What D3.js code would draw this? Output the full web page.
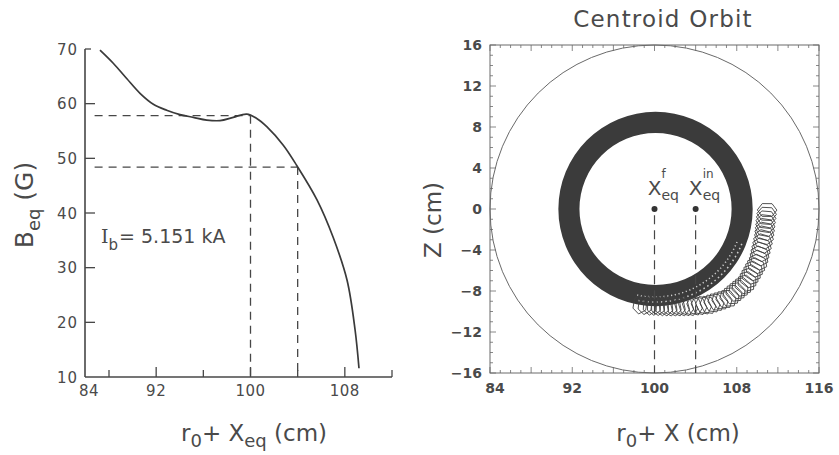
<!DOCTYPE html>
<html><head><meta charset="utf-8">
<script src="https://cdn.jsdelivr.net/npm/d3@7"></script>
<style>
body{margin:0;background:#fff}
text{font-family:"DejaVu Sans",sans-serif;fill:#4a4a4a}
</style>
</head><body>
<svg id="c" width="839" height="455"></svg>
<script>
// ---------- Left panel data ----------
const leftXTicks = [88, 92, 96, 100, 104, 108, 112];
const leftXMajor = [92, 100, 108];
const leftXLabels = [84, 92, 100, 108];
const leftYTicks = [10, 20, 30, 40, 50, 60, 70];
const bCurveX = [86.5, 88.36, 89.5, 90.63, 91.76, 92.89, 94.02, 95.15, 96.29, 97.41, 98.54, 99.68, 100.53, 101.38, 102.78, 103.92, 105.64, 107.0, 108.19, 108.87, 109.2];
const bCurveB = [69.8, 67.4, 64.6, 61.9, 59.9, 58.8, 58.0, 57.5, 57.0, 56.9, 57.5, 58.1, 57.3, 55.8, 52.4, 48.7, 42.4, 35.6, 27.7, 18.6, 11.6];
const guideX = [100, 104];
const guideB = [57.8, 48.4];
const guideStartX = 85.6;
const currentLabel = "= 5.151 kA";

// ---------- Right panel data ----------
const orbitXLabels = [84, 92, 100, 108, 116];
const orbitZLabels = [16, 12, 8, 4, 0, -4, -8, -12, -16];
const chamberCenter = [100, 0];
const chamberRadius = 16;
const ringCenter = [100.1, 0];
const ringRadii = [7.4, 9.45];
const speckleRadii = [8.55, 9.05];
const speckleAngles = [22, 102];
const tailX = [110.95,110.91,110.86,110.82,110.78,110.74,110.69,
  110.65,110.55,110.46,110.36,110.26,110.17,
  110.07,109.88,109.68,109.49,109.29,109.10,
  108.90,108.61,108.32,108.03,107.73,107.44,
  107.15,106.76,106.37,105.98,105.59,
  105.20,104.77,104.33,103.90,
  103.46,103.07,102.68,102.28,101.89,
  101.50,101.11,100.72,100.34,99.95,
  99.56,99.08,98.60];
const tailZ = [-0.10,-0.48,-0.85,-1.23,-1.61,-1.99,-2.36,
  -2.74,-3.15,-3.56,-3.97,-4.37,-4.78,
  -5.19,-5.53,-5.87,-6.22,-6.56,-6.90,
  -7.24,-7.49,-7.73,-7.98,-8.22,-8.47,
  -8.71,-8.84,-8.97,-9.09,-9.22,
  -9.35,-9.39,-9.43,-9.46,
  -9.50,-9.50,-9.50,-9.50,-9.50,
  -9.50,-9.48,-9.46,-9.44,-9.42,
  -9.40,-9.35,-9.30];
const eqX = [100, 104];
const eqSup = ["f", "in"];

const svg = d3.select("#c");
const ink = "#474747";

// ================= LEFT PANEL =================
const xL = d3.scaleLinear().domain([84, 88, 112]).range([85, 109, 392]);
const yL = d3.scaleLinear().domain([10, 70]).range([377, 49]);
const gL = svg.append("g");

gL.append("line").attr("x1", xL(84)).attr("x2", xL(84)).attr("y1", yL(70)).attr("y2", yL(10))
  .attr("stroke", ink).attr("stroke-width", 1.6);
gL.append("line").attr("x1", xL(84)).attr("x2", xL(112)).attr("y1", yL(10)).attr("y2", yL(10))
  .attr("stroke", ink).attr("stroke-width", 1.6);

gL.selectAll(".yt").data(leftYTicks.filter(d => d > 10)).join("line")
  .attr("x1", xL(84)).attr("x2", d => xL(84) + (d === 70 ? 6 : 10))
  .attr("y1", d => yL(d)).attr("y2", d => yL(d))
  .attr("stroke", ink).attr("stroke-width", 1.3);
gL.selectAll(".yl").data(leftYTicks).join("text")
  .attr("x", xL(84) - 7).attr("y", d => yL(d) + 5.5)
  .attr("text-anchor", "end").attr("font-size", 15).attr("letter-spacing", 1)
  .text(d => d);

gL.selectAll(".xt").data(leftXTicks).join("line")
  .attr("x1", d => xL(d)).attr("x2", d => xL(d))
  .attr("y1", yL(10)).attr("y2", d => yL(10) - (leftXMajor.includes(d) ? 10 : 7))
  .attr("stroke", ink).attr("stroke-width", 1.3);
gL.selectAll(".xl").data(leftXLabels).join("text")
  .attr("x", d => d === 84 ? xL(d) + 4 : xL(d)).attr("y", yL(10) + 19)
  .attr("text-anchor", "middle").attr("font-size", 15).attr("letter-spacing", 0.5)
  .text(d => d);

const dash = "8,6";
guideX.forEach((gx, i) => {
  gL.append("line").attr("x1", xL(guideStartX)).attr("x2", xL(gx))
    .attr("y1", yL(guideB[i])).attr("y2", yL(guideB[i]))
    .attr("stroke", ink).attr("stroke-width", 1.3).attr("stroke-dasharray", dash);
  gL.append("line").attr("x1", xL(gx)).attr("x2", xL(gx))
    .attr("y1", yL(guideB[i])).attr("y2", yL(10))
    .attr("stroke", ink).attr("stroke-width", 1.3).attr("stroke-dasharray", dash);
});

const curvePts = bCurveX.map((x, i) => [x, bCurveB[i]]);
gL.append("path").datum(curvePts)
  .attr("d", d3.line().x(d => xL(d[0])).y(d => yL(d[1])).curve(d3.curveCatmullRom.alpha(0.5)))
  .attr("fill", "none").attr("stroke", "#3a3a3a").attr("stroke-width", 1.7);

const ib = gL.append("text").attr("x", 101).attr("y", 243).attr("font-size", 19);
ib.append("tspan").attr("font-family", "DejaVu Serif").text("I");
ib.append("tspan").attr("font-size", 15).attr("dy", 7).text("b");
ib.append("tspan").attr("dy", -7).attr("dx", 1).text(currentLabel);

const ytL = gL.append("text").attr("transform", "translate(33,205) rotate(-90)")
  .attr("text-anchor", "middle").attr("font-size", 25);
ytL.append("tspan").text("B");
ytL.append("tspan").attr("font-size", 18).attr("dy", 7).text("eq");
ytL.append("tspan").attr("dy", -7).text(" (G)");

const xtL = gL.append("text").attr("x", 254).attr("y", 441)
  .attr("text-anchor", "middle").attr("font-size", 23);
xtL.append("tspan").text("r");
xtL.append("tspan").attr("font-size", 18).attr("dy", 6).text("0");
xtL.append("tspan").attr("dy", -6).text("+ X");
xtL.append("tspan").attr("font-size", 18).attr("dy", 6).text("eq");
xtL.append("tspan").attr("dy", -6).text(" (cm)");

// ================= RIGHT PANEL =================
const xR = d3.scaleLinear().domain([84, 116]).range([490, 819]);
const yR = d3.scaleLinear().domain([-16, 16]).range([373, 45]);
const gR = svg.append("g");
const fine = "#6a6a6a";

gR.append("rect").attr("x", xR(84)).attr("y", yR(16))
  .attr("width", xR(116) - xR(84)).attr("height", yR(-16) - yR(16))
  .attr("fill", "none").attr("stroke", fine).attr("stroke-width", 1);

const xMinor = d3.range(84, 117, 1);
const zMinor = d3.range(-16, 17, 1);
const tl = d => (d % 4 === 0 ? 6 : 3);
gR.selectAll(".tb").data(xMinor).join("line")
  .attr("x1", d => xR(d)).attr("x2", d => xR(d)).attr("y1", yR(-16)).attr("y2", d => yR(-16) - tl(d))
  .attr("stroke", fine).attr("stroke-width", 0.8);
gR.selectAll(".tt").data(xMinor).join("line")
  .attr("x1", d => xR(d)).attr("x2", d => xR(d)).attr("y1", yR(16)).attr("y2", d => yR(16) + tl(d))
  .attr("stroke", fine).attr("stroke-width", 0.8);
gR.selectAll(".tlf").data(zMinor).join("line")
  .attr("x1", xR(84)).attr("x2", d => xR(84) + tl(d)).attr("y1", d => yR(d)).attr("y2", d => yR(d))
  .attr("stroke", fine).attr("stroke-width", 0.8);
gR.selectAll(".trt").data(zMinor).join("line")
  .attr("x1", xR(116)).attr("x2", d => xR(116) - tl(d)).attr("y1", d => yR(d)).attr("y2", d => yR(d))
  .attr("stroke", fine).attr("stroke-width", 0.8);

gR.selectAll(".zl").data(orbitZLabels).join("text")
  .attr("x", xR(84) - 8).attr("y", d => yR(d) + 5)
  .attr("text-anchor", "end").attr("font-size", 14).attr("font-weight", "bold").attr("fill", "#505050")
  .text(d => d < 0 ? "\u2212" + Math.abs(d) : d);
gR.selectAll(".xlR").data(orbitXLabels).join("text")
  .attr("x", d => xR(d) + (d === 84 ? 5 : 0)).attr("y", yR(-16) + 20)
  .attr("text-anchor", "middle").attr("font-size", 14).attr("font-weight", "bold").attr("fill", "#505050")
  .text(d => d);

gR.append("ellipse").attr("cx", xR(chamberCenter[0])).attr("cy", yR(chamberCenter[1]))
  .attr("rx", xR(chamberCenter[0] + chamberRadius) - xR(chamberCenter[0]))
  .attr("ry", yR(chamberCenter[1] - chamberRadius) - yR(chamberCenter[1]))
  .attr("fill", "none").attr("stroke", fine).attr("stroke-width", 1);

const kx = xR(1) - xR(0);
gR.append("path")
  .attr("transform", `translate(${xR(ringCenter[0])},${yR(ringCenter[1])})`)
  .attr("d", d3.arc()({innerRadius: ringRadii[0] * kx, outerRadius: ringRadii[1] * kx, startAngle: 0, endAngle: 2 * Math.PI}))
  .attr("fill", "#3b3b3b");

speckleRadii.forEach((r, i) => {
  const p = d3.path();
  p.arc(xR(ringCenter[0]), yR(ringCenter[1]), r * kx, speckleAngles[0] * Math.PI / 180, speckleAngles[1] * Math.PI / 180);
  gR.append("path").attr("d", p.toString()).attr("fill", "none")
    .attr("stroke", "#fff").attr("stroke-width", 1.5).attr("opacity", 0.75)
    .attr("stroke-dasharray", i ? "1.5,3" : "1.2,2.6");
});

const hexA = 0.95, hexB = 0.72;
tailX.forEach((tx, i) => {
  const tz = tailZ[i];
  let ux = tx - ringCenter[0], uz = tz - ringCenter[1];
  const L = Math.hypot(ux, uz); ux /= L; uz /= L;
  const vx = -uz, vz = ux;
  const pts = d3.range(6).map(k => {
    const t = k * Math.PI / 3;
    return [xR(tx + hexA * Math.cos(t) * ux + hexB * Math.sin(t) * vx),
            yR(tz + hexA * Math.cos(t) * uz + hexB * Math.sin(t) * vz)];
  });
  gR.append("polygon").attr("points", pts.map(p => p.join(",")).join(" "))
    .attr("fill", "none").attr("stroke", "#404040").attr("stroke-width", 0.9);
});

eqX.forEach((ex, i) => {
  gR.append("line").attr("x1", xR(ex)).attr("x2", xR(ex)).attr("y1", yR(-0.6)).attr("y2", yR(-16))
    .attr("stroke", ink).attr("stroke-width", 1.2).attr("stroke-dasharray", "9,6");
  gR.append("circle").attr("cx", xR(ex)).attr("cy", yR(0)).attr("r", 3).attr("fill", "#333");
  gR.append("text").attr("x", xR(ex)).attr("y", yR(0) - 14).attr("text-anchor", "middle")
    .attr("font-size", 20).text("X");
  gR.append("text").attr("x", xR(ex) + 7).attr("y", yR(0) - 9).attr("font-size", 14).text("eq");
  gR.append("text").attr("x", xR(ex) + 7).attr("y", yR(0) - 31).attr("font-size", 12).text(eqSup[i]);
});

gR.append("text").attr("x", 663).attr("y", 27).attr("text-anchor", "middle")
  .attr("font-size", 23).attr("letter-spacing", 1.2).text("Centroid Orbit");
gR.append("text").attr("transform", "translate(441,220) rotate(-90)").attr("text-anchor", "middle")
  .attr("font-size", 23).text("Z (cm)");
const xtR = gR.append("text").attr("x", 678).attr("y", 441).attr("text-anchor", "middle").attr("font-size", 23);
xtR.append("tspan").text("r");
xtR.append("tspan").attr("font-size", 18).attr("dy", 6).text("0");
xtR.append("tspan").attr("dy", -6).text("+ X (cm)");
</script>
</body></html>
